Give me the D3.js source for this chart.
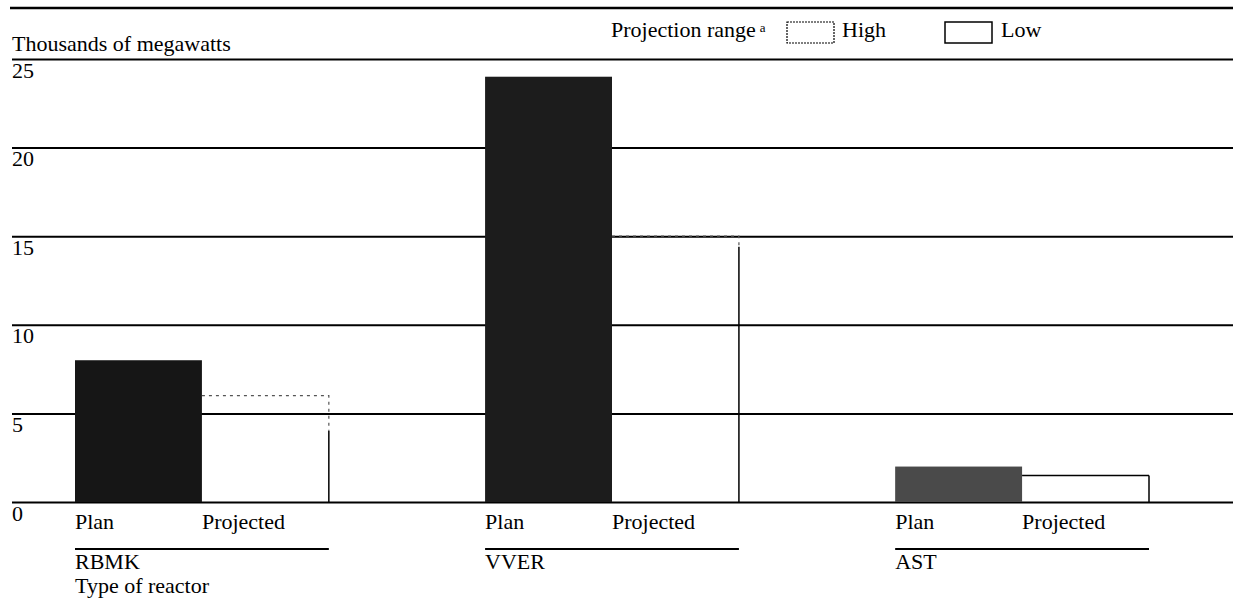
<!DOCTYPE html>
<html>
<head>
<meta charset="utf-8">
<script src="https://cdn.jsdelivr.net/npm/d3@7"></script>
<style>
  html, body { margin: 0; padding: 0; background: #fff; }
  svg text { font-family: "Liberation Serif", "DejaVu Serif", serif; font-size: 22px; fill: #000; }
</style>
</head>
<body>
<div id="chart"></div>
<script>
const width = 1233;
const height = 602;

// data (thousands of megawatts)
const reactors = ["RBMK", "VVER", "AST"];
const planValues = [8, 24, 2];
const projectedHigh = [6, 15, 1.5];
const projectedLow = [4, 14.4, 1.5];
const planShade = ["#161616", "#1c1c1c", "#4a4a4a"];
const yTicks = [0, 5, 10, 15, 20, 25];
const subLabels = ["Plan", "Projected"];

const svg = d3.select("#chart")
    .append("svg")
    .attr("width", width)
    .attr("height", height);

const x = d3.scaleBand()
    .domain(reactors)
    .range([75, 1149])
    .paddingInner(0.381)
    .paddingOuter(0);

const xSub = d3.scaleBand()
    .domain(subLabels)
    .range([0, x.bandwidth()]);

const y = d3.scaleLinear()
    .domain([0, 25])
    .range([502, 59]);

// top rule
svg.append("line")
    .attr("x1", 10).attr("x2", width)
    .attr("y1", 8).attr("y2", 8)
    .attr("stroke", "#000").attr("stroke-width", 2.5);

svg.append("text")
    .attr("x", 12).attr("y", 51)
    .text("Thousands of megawatts");

// legend
const legend = svg.append("g");
legend.append("text")
    .attr("x", 611).attr("y", 37)
    .text("Projection range")
    .append("tspan")
    .attr("dx", 4).attr("dy", -5)
    .style("font-size", "13px")
    .text("a");
legend.append("rect")
    .attr("x", 787).attr("y", 22).attr("width", 47).attr("height", 21)
    .attr("fill", "none").attr("stroke", "#000").attr("stroke-width", 1.2)
    .attr("stroke-dasharray", "2,1");
legend.append("text").attr("x", 842).attr("y", 37).text("High");
legend.append("rect")
    .attr("x", 945).attr("y", 22).attr("width", 47).attr("height", 21)
    .attr("fill", "none").attr("stroke", "#000").attr("stroke-width", 1.5);
legend.append("text").attr("x", 1001).attr("y", 37).text("Low");

// gridlines with labels under each line
const yAxis = d3.axisRight(y)
    .tickValues(yTicks)
    .tickSize(width - 12)
    .tickFormat(d3.format("d"));

const gAxis = svg.append("g")
    .attr("transform", "translate(12,0)")
    .call(yAxis);
gAxis.select(".domain").remove();
gAxis.selectAll(".tick line")
    .attr("stroke", "#000")
    .attr("stroke-width", 2);
gAxis.selectAll(".tick text")
    .attr("x", 0)
    .attr("dy", 18)
    .attr("text-anchor", "start")
    .attr("fill", "#000")
    .style("font-family", "'Liberation Serif', serif")
    .style("font-size", "22px");

// plan bars
svg.append("g")
    .selectAll("rect")
    .data(reactors)
    .join("rect")
    .attr("x", d => x(d) + xSub("Plan"))
    .attr("y", (d, i) => y(planValues[i]))
    .attr("width", xSub.bandwidth())
    .attr("height", (d, i) => y(0) - y(planValues[i]))
    .attr("fill", (d, i) => planShade[i]);

// projected range outlines
const proj = svg.append("g");
reactors.forEach((r, i) => {
    const x0 = x(r) + xSub("Projected");
    const x1 = x0 + xSub.bandwidth();
    const hi = projectedHigh[i];
    const lo = projectedLow[i];
    if (hi > lo) {
        proj.append("path")
            .attr("d", `M${x0},${y(hi)}H${x1}V${y(lo)}`)
            .attr("fill", "none")
            .attr("stroke", "#555")
            .attr("stroke-width", 1.2)
            .attr("stroke-dasharray", "3,4");
    } else {
        proj.append("path")
            .attr("d", `M${x0},${y(hi)}H${x1}`)
            .attr("fill", "none")
            .attr("stroke", "#000")
            .attr("stroke-width", 1.5);
    }
    proj.append("path")
        .attr("d", `M${x1},${y(lo)}V${y(0)}`)
        .attr("stroke", "#000")
        .attr("stroke-width", 1.5);
});

// x labels
const xl = svg.append("g");
reactors.forEach(r => {
    subLabels.forEach(s => {
        xl.append("text")
            .attr("x", x(r) + xSub(s))
            .attr("y", 529)
            .text(s);
    });
    xl.append("line")
        .attr("x1", x(r)).attr("x2", x(r) + x.bandwidth())
        .attr("y1", 549).attr("y2", 549)
        .attr("stroke", "#000").attr("stroke-width", 2);
    xl.append("text")
        .attr("x", x(r))
        .attr("y", 569)
        .text(r);
});

svg.append("text")
    .attr("x", x("RBMK"))
    .attr("y", 593)
    .text("Type of reactor");
</script>
</body>
</html>
